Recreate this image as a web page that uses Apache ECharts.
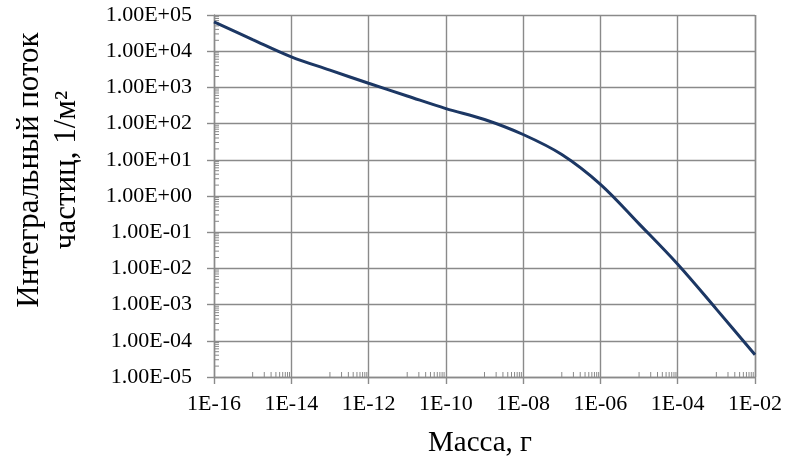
<!DOCTYPE html>
<html>
<head>
<meta charset="utf-8">
<script src="https://cdn.jsdelivr.net/npm/echarts@6/dist/echarts.min.js"></script>
<style>
html,body{margin:0;padding:0;background:#fff;}
#chart{width:789px;height:466px;}
</style>
</head>
<body>
<div id="chart"></div>
<script>
// Data
var massValues = [1e-16, 1e-15, 1e-14, 1e-13, 1e-12, 1e-11, 1e-10, 1e-9, 1e-8, 1e-7, 1e-6, 1e-5, 1e-4, 1e-3, 1e-2];
var fluxValues = [6.5e4, 2.1e4, 7.0e3, 3.0e3, 1.3e3, 5.8e2, 2.6e2, 1.3e2, 5.0e1, 1.4e1, 2.1, 0.17, 0.013, 7.5e-4, 4.1e-5];

var xTickLabels = ['1E-16', '1E-14', '1E-12', '1E-10', '1E-08', '1E-06', '1E-04', '1E-02'];
var yTickLabels = ['1.00E-05', '1.00E-04', '1.00E-03', '1.00E-02', '1.00E-01', '1.00E+00',
                   '1.00E+01', '1.00E+02', '1.00E+03', '1.00E+04', '1.00E+05'];

var xTitle = 'Масса, г';
var yTitle = 'Интегральный поток\nчастиц, 1/м²';

var xMin = 1e-16, xMax = 1e-2, yMin = 1e-5, yMax = 1e5;

// minor tick positions (axis decoration, as in the reference)
var xMinorMultiples = [1, 2, 3, 4, 5, 6, 7, 8, 9];
var xMinorExponents = [-15, -13, -11, -9, -7, -5, -3];
var yMinorMultiples = [2, 3, 4, 5, 6, 7, 8, 9];
var yMinorExponents = [-5, -4, -3, -2, -1, 0, 1, 2, 3, 4];

var xMinorTicks = [];
xMinorExponents.forEach(function (e) {
  xMinorMultiples.forEach(function (m) { xMinorTicks.push([m * Math.pow(10, e), yMin]); });
});
var yMinorTicks = [];
yMinorExponents.forEach(function (e) {
  yMinorMultiples.forEach(function (m) { yMinorTicks.push([xMin, m * Math.pow(10, e)]); });
});

var lineData = massValues.map(function (m, i) { return [m, fluxValues[i]]; });

var gridColor = '#8a8a8a';
var gridWidth = 1.4;
var font = '"Liberation Serif", "Times New Roman", serif';

function expOf(v) { return Math.round(Math.log(v) / Math.LN10); }

var chart = echarts.init(document.getElementById('chart'), null, {renderer: 'canvas'});
chart.setOption({
  animation: false,
  backgroundColor: '#ffffff',
  grid: {left: 214, right: 34, top: 15, bottom: 89, containLabel: false},
  xAxis: {
    type: 'log',
    logBase: 100,
    min: xMin,
    max: xMax,
    splitNumber: 7,
    axisLine: {show: true, lineStyle: {color: gridColor, width: gridWidth}},
    axisTick: {show: true, inside: false, length: 7, lineStyle: {color: gridColor, width: gridWidth}},
    splitLine: {show: true, lineStyle: {color: gridColor, width: gridWidth}},
    minorTick: {show: false},
    axisLabel: {
      margin: 16,
      color: '#000',
      fontFamily: font,
      fontSize: 22,
      formatter: function (v) {
        var idx = (expOf(v) + 16) / 2;
        return xTickLabels[idx] !== undefined ? xTickLabels[idx] : '';
      }
    }
  },
  yAxis: {
    type: 'log',
    logBase: 10,
    min: yMin,
    max: yMax,
    interval: 1,
    splitNumber: 10,
    axisLine: {show: true, lineStyle: {color: gridColor, width: gridWidth}},
    axisTick: {show: true, inside: false, length: 7, lineStyle: {color: gridColor, width: gridWidth}},
    splitLine: {show: true, lineStyle: {color: gridColor, width: gridWidth}},
    axisLabel: {
      margin: 22,
      color: '#000',
      fontFamily: font,
      fontSize: 22,
      formatter: function (v) {
        var idx = expOf(v) + 5;
        return yTickLabels[idx] !== undefined ? yTickLabels[idx] : '';
      }
    }
  },
  series: [
    {
      type: 'line',
      data: lineData,
      smooth: 0.35,
      showSymbol: false,
      symbol: 'none',
      clip: true,
      lineStyle: {color: '#1c3764', width: 3},
      z: 5
    },
    {
      type: 'custom',
      silent: true,
      clip: false,
      data: xMinorTicks,
      renderItem: function (params, api) {
        var p = api.coord([api.value(0), api.value(1)]);
        return {
          type: 'line',
          shape: {x1: p[0], y1: p[1], x2: p[0], y2: p[1] - 5},
          style: {stroke: gridColor, lineWidth: 1}
        };
      },
      z: 3
    },
    {
      type: 'custom',
      silent: true,
      clip: false,
      data: yMinorTicks,
      renderItem: function (params, api) {
        var p = api.coord([api.value(0), api.value(1)]);
        return {
          type: 'line',
          shape: {x1: p[0], y1: p[1], x2: p[0] + 5, y2: p[1]},
          style: {stroke: gridColor, lineWidth: 1}
        };
      },
      z: 3
    }
  ],
  graphic: [
    {
      type: 'text',
      x: 480,
      y: 443,
      style: {
        text: xTitle,
        fill: '#000',
        font: '29px ' + font,
        textAlign: 'center',
        textVerticalAlign: 'middle'
      }
    },
    {
      type: 'text',
      x: 48,
      y: 170,
      rotation: Math.PI / 2,
      style: {
        text: yTitle,
        fill: '#000',
        font: '31px ' + font,
        lineHeight: 37,
        textAlign: 'center',
        textVerticalAlign: 'middle'
      }
    }
  ]
});
</script>
</body>
</html>
